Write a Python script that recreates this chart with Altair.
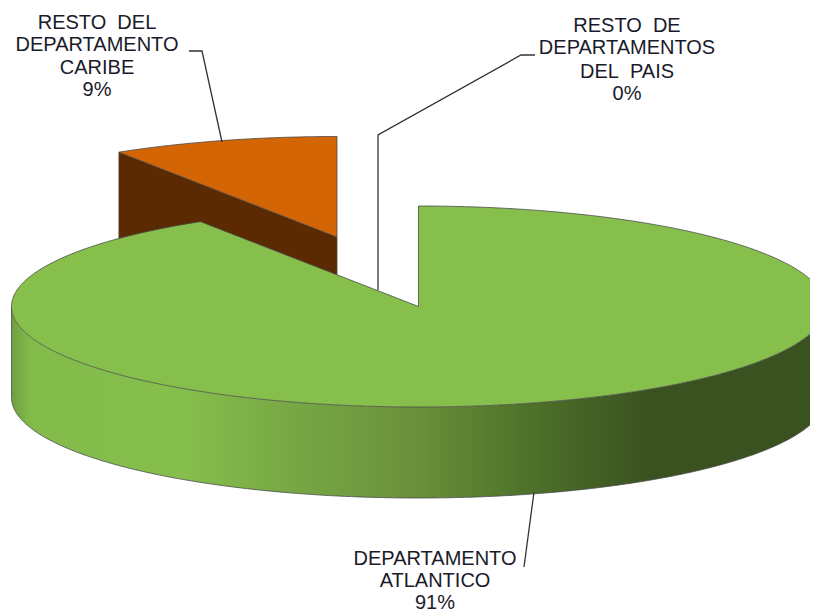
import numpy as np
import pandas as pd
import altair as alt

# --- values ---
CATEGORIES = ["DEPARTAMENTO ATLANTICO", "RESTO DEL DEPARTAMENTO CARIBE", "RESTO DE DEPARTAMENTOS DEL PAIS"]
SHARES = [0.91, 0.09, 0.00]
NB = "\u00a0"
LABEL_LINES = [
    ["RESTO" + NB + NB + "DEL", "DEPARTAMENTO", "CARIBE", "9%"],
    ["RESTO" + NB + NB + "DE", "DEPARTAMENTOS", "DEL" + NB + NB + "PAIS", "0%"],
    ["DEPARTAMENTO", "ATLANTICO", "91%"],
]
LABEL_X = [97, 627, 435]
LABEL_Y = [[23, 45, 68, 90], [26, 48, 72, 94], [559, 581, 603]]
LEADERS = [
    [(189, 51), (202, 51), (222, 142)],
    [(535, 55), (521, 55), (378, 135), (378, 290)],
    [(534, 492), (524, 567)],
]

GREEN = "#86BF4C"
ORANGE = "#D46504"
BROWN = "#5B2A03"
EDGE = "#4a4a4a"

# --- pie geometry (ellipse in picture units), wedge angles from the shares ---
CX, CY, RX, RY, DEPTH = 418.5, 306.5, 407.0, 100.5, 91.0
OX, OY = 337.0, 237.0  # exploded slice centre
theta = 2 * np.pi * SHARES[1]
sx, cx_ = np.sin(theta), np.cos(theta)

t = np.linspace(0, np.pi, 361)
xa = CX - RX * np.cos(t)
y_front = CY + RY * np.sin(t)
y_back = CY - RY * np.sin(t)
tip_x, tip_y = CX - RX * sx, CY - RY * cx_


def front_of(x):
    return CY + RY * np.sqrt(np.clip(1 - ((x - CX) / RX) ** 2, 0, 1))


def back_of(x):
    return CY - RY * np.sqrt(np.clip(1 - ((x - CX) / RX) ** 2, 0, 1))


# green top face: upper boundary follows the rim, then the two wedge edges
keep_left = xa <= tip_x
keep_right = xa >= CX
mid_x = np.linspace(tip_x, CX - 0.01, 120)
mid_up = tip_y + (mid_x - tip_x) * (CY - tip_y) / (CX - tip_x)
top_x = np.concatenate([xa[keep_left], mid_x, [CX], xa[keep_right]])
top_up = np.concatenate([y_back[keep_left], mid_up, [CY - RY], y_back[keep_right]])
green_top = pd.DataFrame({"x": top_x, "y": top_up, "y2": front_of(top_x)})

green_wall = pd.DataFrame({"x": xa, "y": y_front, "y2": y_front + DEPTH})

# orange slice
ox = np.linspace(OX - RX * sx, OX, 80)
o_back = OY - RY * np.sqrt(1 - ((ox - OX) / RX) ** 2)
o_line = OY + (ox - OX) * (RY * cx_) / (RX * sx)
orange_top = pd.DataFrame({"x": ox, "y": o_back, "y2": o_line})
brown_wall = pd.DataFrame({"x": ox, "y": o_line, "y2": o_line + DEPTH})

# thin outlines
paths = []


def add(name, xs, ys):
    for i, (a, b) in enumerate(zip(xs, ys)):
        paths.append({"p": name, "i": i, "x": float(a), "y": float(b)})


add("green_rim",
    list(xa[keep_left]) + [tip_x, CX, CX] + list(xa[keep_right]),
    list(y_back[keep_left]) + [tip_y, CY, CY - RY] + list(y_back[keep_right]))
add("front", xa, y_front)
add("bottom", xa, y_front + DEPTH)
add("left", [CX - RX, CX - RX], [CY, CY + DEPTH])
add("orange", list(ox) + [OX, ox[0]], list(o_back) + [OY, o_back[0]])
add("brownleft", [ox[0], ox[0]], [o_back[0], float(back_of(ox[0]))])
add("brownright", [OX, OX], [OY, float(tip_y + (OX - tip_x) * (CY - tip_y) / (CX - tip_x))])
outline = pd.DataFrame(paths)

lead = pd.DataFrame([{"p": k, "i": i, "x": a, "y": b}
                     for k, pts in enumerate(LEADERS) for i, (a, b) in enumerate(pts)])
labels = pd.DataFrame([{"t": s, "x": LABEL_X[k], "y": LABEL_Y[k][j]}
                       for k, lines in enumerate(LABEL_LINES) for j, s in enumerate(lines)])

# --- scales ---
X = alt.X("x:Q", scale=alt.Scale(domain=[8, 810], nice=False, zero=False), axis=None)
Y = alt.Y("y:Q", scale=alt.Scale(domain=[614, 8], nice=False, zero=False), axis=None)


def area(df, fill):
    return alt.Chart(df).mark_area(color=fill, orient="vertical", clip=True, interpolate="linear").encode(
        x=X, y=Y, y2="y2:Q")


W = 813.0


def stop(px, c):
    return alt.GradientStop(offset=min(1.0, max(0.0, (px - 12) / W)), color=c)


wall_grad = alt.Gradient(
    gradient="linear", x1=0, x2=1, y1=0, y2=0,
    stops=[stop(12, "#6F9E40"), stop(30, "#82BB4A"), stop(180, "#86BF4C"), stop(300, "#76A644"),
           stop(409, "#6B923B"), stop(470, "#5C8232"), stop(540, "#4C6E29"),
           stop(650, "#3A5220"), stop(825, "#3A5220")],
)

outlines = alt.Chart(outline).mark_line(color=EDGE, strokeWidth=0.8, clip=True).encode(
    x=X, y=Y, detail="p:N", order="i:Q")
leaders = alt.Chart(lead).mark_line(color="#333333", strokeWidth=1.3, clip=True).encode(
    x=X, y=Y, detail="p:N", order="i:Q")
text = alt.Chart(labels).mark_text(
    font="Liberation Sans", fontSize=20, color="#1a1a2a", align="center", baseline="middle"
).encode(x=X, y=Y, text="t:N")

chart = alt.layer(
    area(brown_wall, BROWN),
    area(orange_top, ORANGE),
    area(green_wall, wall_grad),
    area(green_top, GREEN),
    outlines,
    leaders,
    text,
).properties(width=802, height=606, padding=0, autosize=alt.AutoSizeParams(type="none")).configure_view(stroke=None)

chart.save("out.html", embed_options={"renderer": "svg", "actions": False})
